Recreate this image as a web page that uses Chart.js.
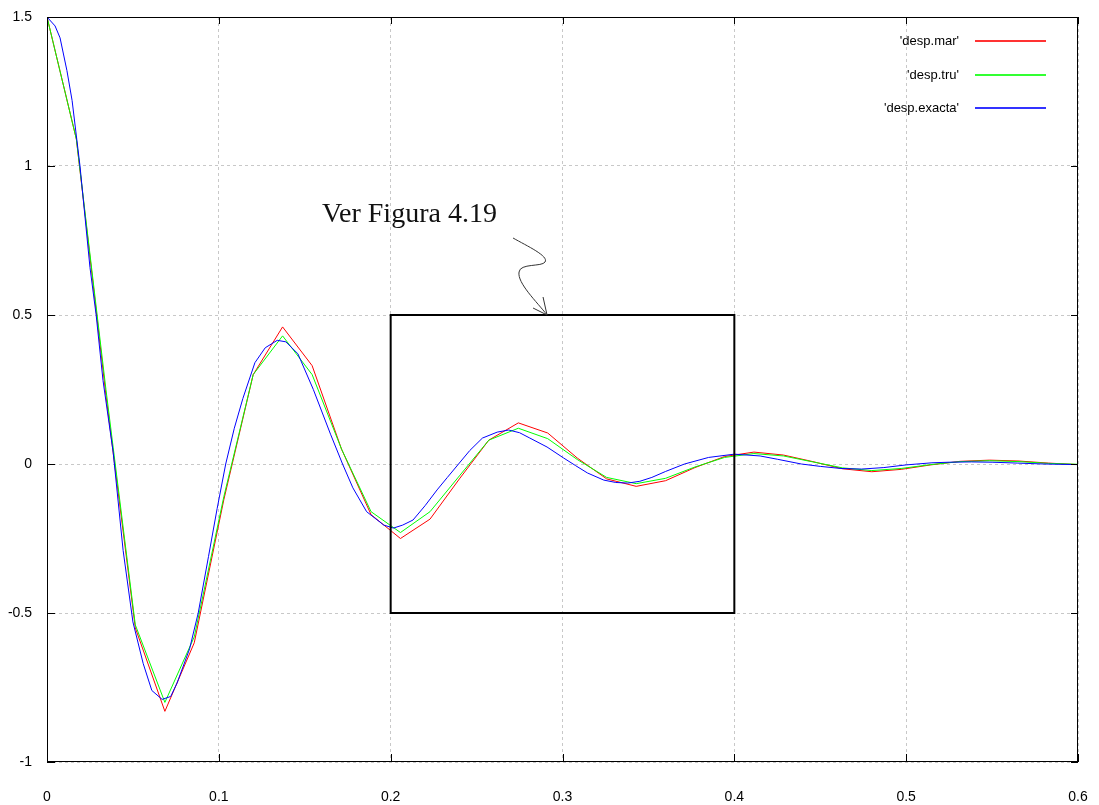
<!DOCTYPE html>
<html>
<head>
<meta charset="utf-8">
<script src="https://cdn.jsdelivr.net/npm/chart.js@4.4.1/dist/chart.umd.min.js"></script>
<style>
  html, body { margin: 0; padding: 0; background: #fff; }
  #wrap { width: 1099px; height: 805px; }
</style>
</head>
<body>
<div id="wrap"><canvas id="despChart" width="1099" height="805"></canvas></div>
<script>
// coarse time grid shared by the two approximate solutions
const tCoarse = [0, 0.0171, 0.0343, 0.0514, 0.0686, 0.0857, 0.1029, 0.12, 0.1371, 0.1543,
  0.1714, 0.1886, 0.2057, 0.2229, 0.24, 0.2571, 0.2743, 0.2914, 0.3086, 0.3257,
  0.3429, 0.36, 0.3771, 0.3943, 0.4114, 0.4286, 0.4457, 0.4629, 0.48, 0.4971,
  0.5143, 0.5314, 0.5486, 0.5657, 0.5829, 0.6];

const despMar = [1.5, 1.09, 0.23, -0.55, -0.83, -0.60, -0.12, 0.30, 0.46, 0.33,
  0.05, -0.17, -0.25, -0.185, -0.05, 0.08, 0.138, 0.104, 0.02, -0.05,
  -0.075, -0.056, -0.012, 0.025, 0.04, 0.03, 0.008, -0.016, -0.026, -0.018,
  -0.003, 0.009, 0.013, 0.01, 0.003, -0.002];

const despTru = [1.5, 1.09, 0.25, -0.54, -0.80, -0.58, -0.11, 0.30, 0.43, 0.30,
  0.05, -0.16, -0.23, -0.16, -0.04, 0.08, 0.12, 0.085, 0.015, -0.045,
  -0.066, -0.048, -0.01, 0.022, 0.035, 0.027, 0.007, -0.013, -0.022, -0.015,
  -0.002, 0.008, 0.011, 0.008, 0.002, -0.001];

// finer sampling for the exact solution
const tExact = [0, 0.0047, 0.0076, 0.0116, 0.0146, 0.0192, 0.025, 0.0286, 0.0326, 0.0385,
  0.0443, 0.05, 0.056, 0.061, 0.067, 0.072, 0.0757, 0.083, 0.088, 0.094,
  0.099, 0.104, 0.109, 0.114, 0.121, 0.127, 0.134, 0.139, 0.146, 0.155,
  0.165, 0.172, 0.178, 0.186, 0.196, 0.2016, 0.207, 0.213, 0.22, 0.227,
  0.233, 0.2395, 0.246, 0.2534, 0.262, 0.2687, 0.275, 0.281, 0.291, 0.3007,
  0.3075, 0.3145, 0.324, 0.331, 0.338, 0.345, 0.352, 0.36, 0.371, 0.385,
  0.40, 0.415, 0.425, 0.439, 0.45, 0.462, 0.474, 0.487, 0.50, 0.515,
  0.525, 0.538, 0.55, 0.565, 0.58, 0.6];

const despExacta = [1.5, 1.47, 1.43, 1.32, 1.22, 1.0, 0.66, 0.5, 0.28, 0.04,
  -0.29, -0.53, -0.67, -0.76, -0.79, -0.78, -0.735, -0.62, -0.5, -0.31,
  -0.15, 0.0, 0.12, 0.22, 0.34, 0.39, 0.415, 0.41, 0.37, 0.25,
  0.10, 0.0, -0.08, -0.16, -0.205, -0.215, -0.205, -0.188, -0.14, -0.087,
  -0.045, 0.0, 0.045, 0.087, 0.107, 0.114, 0.105, 0.087, 0.057, 0.02,
  -0.005, -0.03, -0.054, -0.062, -0.064, -0.058, -0.045, -0.025, 0.0, 0.022,
  0.033, 0.027, 0.016, 0.0, -0.008, -0.015, -0.017, -0.012, -0.003, 0.004,
  0.006, 0.007, 0.006, 0.003, 0.0, -0.002];

const xTicks = [0, 0.1, 0.2, 0.3, 0.4, 0.5, 0.6];
const yTicks = [-1, -0.5, 0, 0.5, 1, 1.5];

// annotation: zoom box, label and arrow tip (data units)
const boxX = [0.2, 0.4];
const boxY = [-0.5, 0.5];
const noteText = 'Ver Figura 4.19';
const notePos = [0.16, 0.812];
const arrowTip = [0.291, 0.5];

const legendNames = ["'desp.mar'", "'desp.tru'", "'desp.exacta'"];
const lineColors = ['#ff0000', '#00ff00', '#0000ff'];

function pairs(xs, ys) {
  return xs.map((x, i) => ({ x: x, y: ys[i] }));
}

// drop the edge padding chart.js reserves for tick labels
function fixPadding(s) {
  s.paddingLeft = 0; s.paddingRight = 0; s.paddingTop = 0; s.paddingBottom = 0;
}

const gnuplotDecor = {
  id: 'gnuplotDecor',
  afterDatasetsDraw(chart) {
    const ctx = chart.ctx;
    const a = chart.chartArea;
    const xs = chart.scales.x, ys = chart.scales.y;
    ctx.save();

    // border
    ctx.strokeStyle = '#000';
    ctx.lineWidth = 1;
    ctx.strokeRect(Math.round(a.left) + 0.5, Math.round(a.top) + 0.5,
      Math.round(a.right - a.left) - 1, Math.round(a.bottom - a.top) - 1);

    // inward ticks, mirrored
    ctx.beginPath();
    xTicks.forEach(v => {
      const px = Math.round(xs.getPixelForValue(v)) + 0.5;
      ctx.moveTo(px, a.bottom); ctx.lineTo(px, a.bottom - 8);
      ctx.moveTo(px, a.top); ctx.lineTo(px, a.top + 7);
    });
    yTicks.forEach(v => {
      const py = Math.round(ys.getPixelForValue(v)) + 0.5;
      ctx.moveTo(a.left, py); ctx.lineTo(a.left + 8, py);
      ctx.moveTo(a.right, py); ctx.lineTo(a.right - 7, py);
    });
    ctx.stroke();

    // zoom box
    const bx0 = xs.getPixelForValue(boxX[0]), bx1 = xs.getPixelForValue(boxX[1]);
    const by0 = ys.getPixelForValue(boxY[1]), by1 = ys.getPixelForValue(boxY[0]);
    ctx.lineWidth = 2;
    ctx.strokeRect(bx0, by0, bx1 - bx0, by1 - by0);

    // label
    ctx.fillStyle = '#111';
    ctx.font = '28px "Liberation Serif", "DejaVu Serif", serif';
    ctx.textAlign = 'left';
    ctx.textBaseline = 'alphabetic';
    ctx.fillText(noteText, xs.getPixelForValue(notePos[0]), ys.getPixelForValue(notePos[1]));

    // squiggly arrow
    const tx = xs.getPixelForValue(arrowTip[0]), ty = ys.getPixelForValue(arrowTip[1]);
    ctx.strokeStyle = '#333';
    ctx.lineWidth = 1;
    ctx.beginPath();
    ctx.moveTo(tx - 34, ty - 77);
    ctx.bezierCurveTo(tx - 20, ty - 69, tx + 2, ty - 59, tx - 2, ty - 53);
    ctx.bezierCurveTo(tx - 5, ty - 48, tx - 27, ty - 52, tx - 28, ty - 43);
    ctx.bezierCurveTo(tx - 30, ty - 32, tx - 10, ty - 13, tx, ty);
    ctx.moveTo(tx, ty); ctx.lineTo(tx - 14, ty - 7);
    ctx.moveTo(tx, ty); ctx.lineTo(tx - 4, ty - 18);
    ctx.stroke();

    // legend, gnuplot style: label then sample line
    ctx.font = '13px "Liberation Sans", Arial, sans-serif';
    ctx.textAlign = 'right';
    ctx.textBaseline = 'middle';
    const rows = [24, 58, 91];
    legendNames.forEach((name, i) => {
      const y = Math.round(a.top + rows[i]);
      ctx.fillStyle = '#000';
      ctx.fillText(name, a.right - 119, y);
      ctx.globalAlpha = 0.8;
      ctx.fillStyle = lineColors[i];
      ctx.fillRect(a.right - 103, y - 1, 71, 2);
      ctx.globalAlpha = 1;
    });

    ctx.restore();
  }
};

new Chart(document.getElementById('despChart'), {
  type: 'line',
  data: {
    datasets: [{
      label: legendNames[0],
      data: pairs(tCoarse, despMar),
      borderColor: lineColors[0],
      order: 2
    }, {
      label: legendNames[1],
      data: pairs(tCoarse, despTru),
      borderColor: lineColors[1],
      order: 1
    }, {
      label: legendNames[2],
      data: pairs(tExact, despExacta),
      borderColor: lineColors[2],
      order: 0
    }]
  },
  options: {
    responsive: false,
    animation: false,
    devicePixelRatio: 1,
    layout: { padding: { top: 17, right: 21, left: 0, bottom: 0 } },
    elements: {
      line: { borderWidth: 1, tension: 0 },
      point: { radius: 0 }
    },
    plugins: {
      legend: { display: false },
      tooltip: { enabled: false }
    },
    scales: {
      x: {
        type: 'linear',
        min: 0,
        max: 0.6,
        afterBuildTicks: s => { s.ticks = xTicks.map(v => ({ value: v })); },
        afterFit: s => { s.height = 43; fixPadding(s); },
        ticks: {
          padding: 27,
          color: '#000',
          maxRotation: 0,
          font: { family: '"Liberation Sans", Arial, sans-serif', size: 14 },
          callback: v => String(v)
        },
        grid: { color: '#c8c8c8', drawTicks: false },
        border: { display: false, dash: [3, 3] }
      },
      y: {
        type: 'linear',
        min: -1,
        max: 1.5,
        afterBuildTicks: s => { s.ticks = yTicks.map(v => ({ value: v })); },
        afterFit: s => { s.width = 47; fixPadding(s); },
        ticks: {
          padding: 15,
          color: '#000',
          font: { family: '"Liberation Sans", Arial, sans-serif', size: 14 },
          callback: v => String(v)
        },
        grid: { color: '#c8c8c8', drawTicks: false },
        border: { display: false, dash: [3, 3] }
      }
    }
  },
  plugins: [gnuplotDecor]
});
</script>
</body>
</html>
